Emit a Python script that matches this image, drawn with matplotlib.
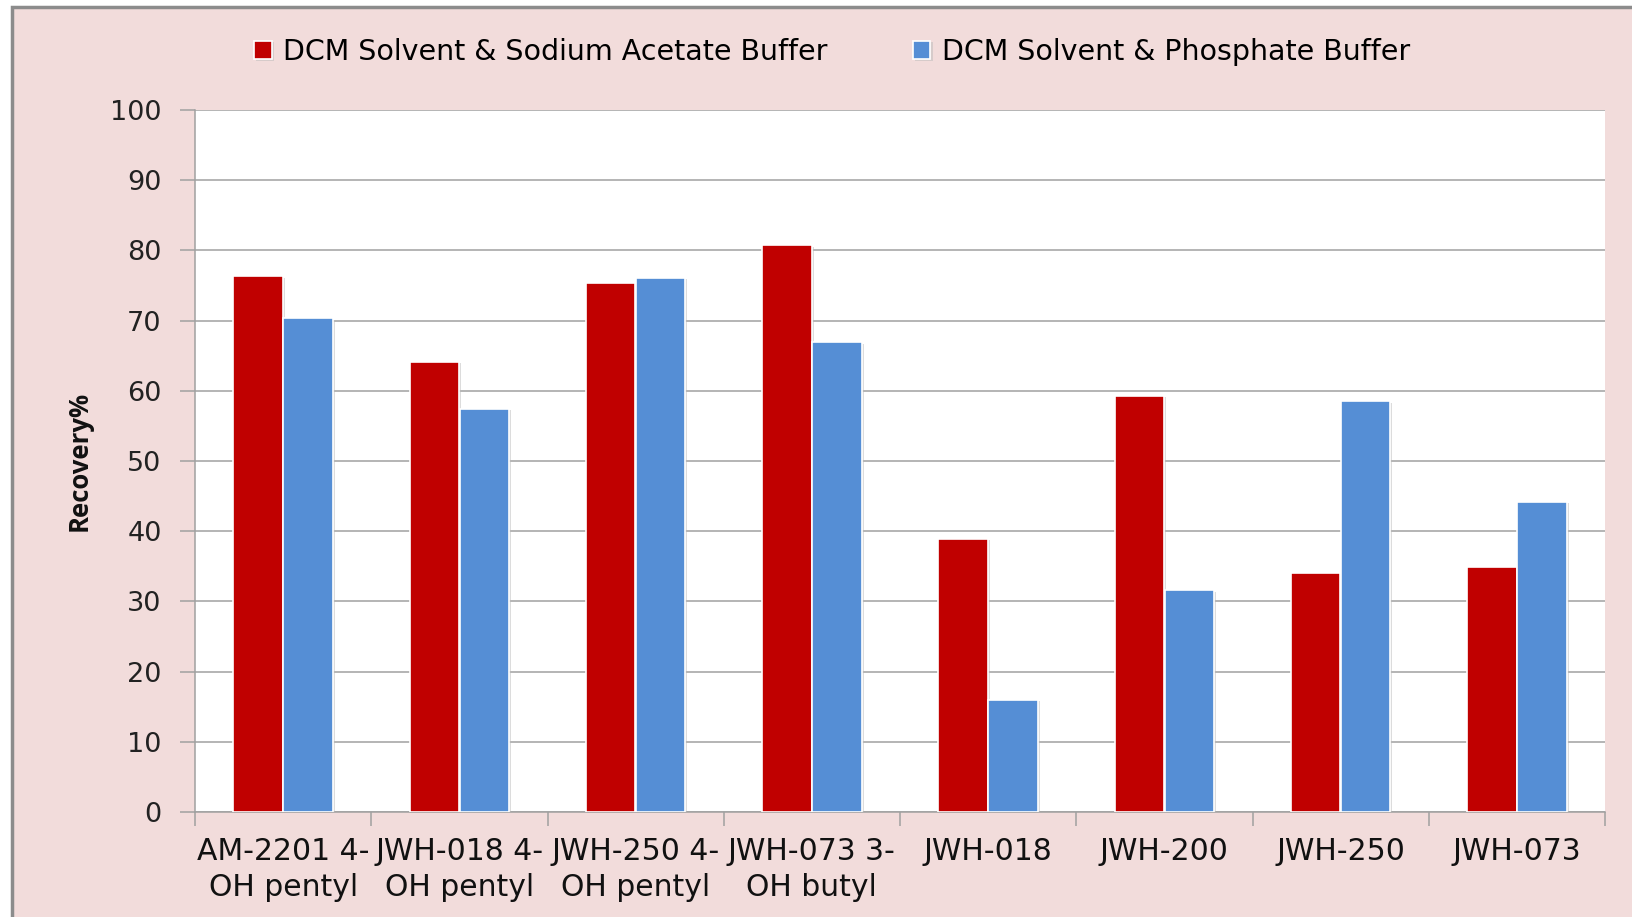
import matplotlib
matplotlib.use("Agg")
import matplotlib.pyplot as plt
import matplotlib.patheffects as pe
import numpy as np
from matplotlib.patches import Rectangle

categories = ["AM-2201 4-\nOH pentyl", "JWH-018 4-\nOH pentyl", "JWH-250 4-\nOH pentyl",
              "JWH-073 3-\nOH butyl", "JWH-018", "JWH-200", "JWH-250", "JWH-073"]
acetate = [76.3, 64.1, 75.4, 80.7, 38.9, 59.3, 34.1, 34.9]
phosphate = [70.3, 57.4, 76.1, 66.9, 16.0, 31.6, 58.5, 44.2]
series_names = ["DCM Solvent & Sodium Acetate Buffer", "DCM Solvent & Phosphate Buffer"]
yticks = list(range(0, 101, 10))

RED = "#C00000"
BLUE = "#558ED5"
PINK = "#F2DCDB"
GRID = "#A0A0A0"

fig = plt.figure(figsize=(16.32, 9.17), dpi=100)
fig.patch.set_facecolor("white")
bg = Rectangle((12/1632, -0.05), 1.2, 1 - 7/917 + 0.05, transform=fig.transFigure,
               facecolor=PINK, edgecolor="#8C8C8C", linewidth=2.5, zorder=-10)
fig.patches.append(bg)

ax = fig.add_axes([195/1632, 1 - 812/917, (1605-195)/1632, (812-110)/917])
ax.set_facecolor("white")
ax.set_zorder(1)

x = np.arange(len(categories))
w = 0.28
shadow = [pe.SimplePatchShadow(offset=(1.5, -1.0), shadow_rgbFace="#BBBBBB", alpha=0.5), pe.Normal()]
b1 = ax.bar(x - 0.142, acetate, w, color=RED, edgecolor="white", linewidth=1.2, zorder=3,
            label=series_names[0])
b2 = ax.bar(x + 0.142, phosphate, w, color=BLUE, edgecolor="white", linewidth=1.2, zorder=3,
            label=series_names[1])
for p in list(b1) + list(b2):
    p.set_path_effects(shadow)

ax.set_xlim(-0.5, len(categories) - 0.5)
ax.set_ylim(0, 100)
ax.set_yticks(yticks)
ax.set_yticklabels([str(t) for t in yticks], fontsize=19.5, family="DejaVu Sans", color="#222222")
ax.yaxis.grid(True, color=GRID, linewidth=1.1, zorder=0)
ax.set_axisbelow(True)

ax.set_xticks(x)
ax.set_xticklabels([])
ax.tick_params(axis="x", which="major", length=0, pad=12)
ax.set_xticks(np.arange(-0.5, len(categories), 1.0), minor=True)
ax.tick_params(axis="x", which="minor", length=10, width=1.1, color=GRID, direction="out")
ax.tick_params(axis="y", length=11, width=1.1, color=GRID, direction="out", pad=13)

for i, lab in enumerate(categories):
    ax.text(i, -3.6, lab, ha="center", va="top", fontsize=21.5, family="DejaVu Sans",
            linespacing=1.3, color="#111111", transform=ax.transData, clip_on=False)

for s in ["top", "right"]:
    ax.spines[s].set_visible(False)
for s in ["left", "bottom"]:
    ax.spines[s].set_color(GRID)
    ax.spines[s].set_linewidth(1.1)

fig.text(79/1632, 1 - 461/917, "Recovery%", rotation=90, ha="center", va="center",
         fontsize=18.5, fontweight="bold", family="Open Sans", color="#111111")

leg = fig.legend(handles=[b1, b2], labels=series_names, loc="center",
                 bbox_to_anchor=(832/1632, 1 - 52/917), ncol=2, frameon=False,
                 prop={"family": "DejaVu Sans", "size": 20.5}, handlelength=0.62, handleheight=0.62,
                 handletextpad=0.4, columnspacing=3.0)

fig.savefig("out.png", dpi=100, facecolor=fig.get_facecolor())
